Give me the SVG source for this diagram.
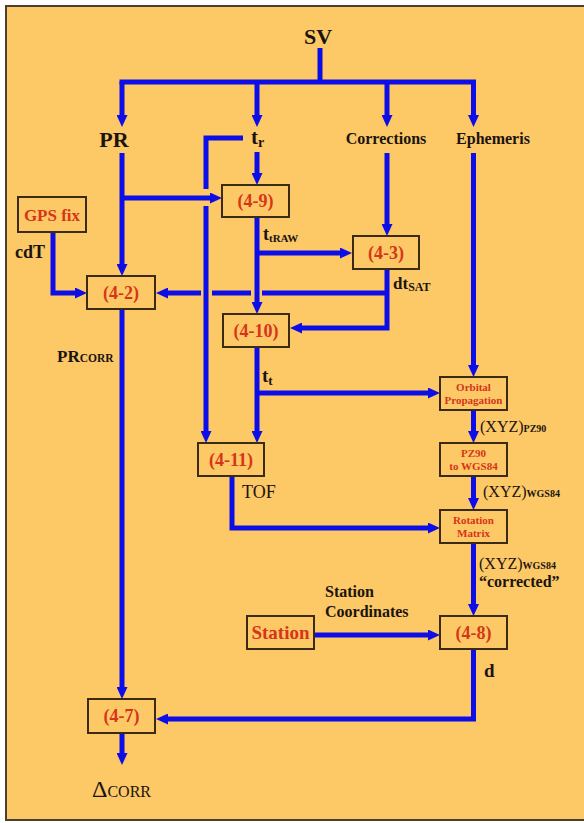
<svg xmlns="http://www.w3.org/2000/svg" width="584" height="823" viewBox="0 0 584 823">
<defs>
<marker id="ah" viewBox="0 0 12 11" refX="1" refY="5.5" markerWidth="12" markerHeight="11" markerUnits="userSpaceOnUse" orient="auto"><path d="M0,0 L12,5.5 L0,11 z" fill="#0d0de8"/></marker>
</defs>
<style>
.c{fill:none;stroke:#0d0de8;stroke-width:5;stroke-linejoin:miter}
.a{marker-end:url(#ah)}
.box{fill:#fdc866;stroke:#3b2b14;stroke-width:2}
.bt{font-family:"Liberation Serif","Times New Roman",serif;font-weight:bold;fill:#d6351a;text-anchor:middle}
.lb{font-family:"Liberation Serif","Times New Roman",serif;font-weight:bold;fill:#1a1410}
.rg{font-weight:normal}
</style>
<rect x="0" y="0" width="584" height="823" fill="#ffffff"/>
<rect x="6" y="6" width="600" height="814" fill="#fdc866" stroke="#4a4030" stroke-width="2"/>

<g id="connectors">
<path class="c" d="M320,48 V82"/>
<path class="c" d="M122,82 H473.5" stroke-linecap="square"/>
<path class="c a" d="M122,82 V116"/>
<path class="c a" d="M257,82 V116"/>
<path class="c a" d="M387,82 V116"/>
<path class="c a" d="M473.5,82 V116"/>
<path class="c a" d="M122,153 V265"/>
<path class="c a" d="M122,198 H211"/>
<path class="c" d="M243,138 H206 V189"/>
<path class="c a" d="M206,206 V432"/>
<path class="c a" d="M257,152 V174"/>
<path class="c a" d="M257,217 V303"/>
<path class="c a" d="M257,253 H341"/>
<path class="c a" d="M387,153 V225"/>
<path class="c a" d="M387,269 V328 H301"/>
<path class="c" d="M387,293 H262"/>
<path class="c" d="M251,293 H212"/>
<path class="c a" d="M201,293 H167"/>
<path class="c a" d="M53,232 V293 H76"/>
<path class="c a" d="M257,347 V432"/>
<path class="c a" d="M257,393 H429"/>
<path class="c a" d="M473.5,153 V366"/>
<path class="c a" d="M473.5,410 V432"/>
<path class="c a" d="M473.5,476 V499"/>
<path class="c a" d="M232,476 V528 H429"/>
<path class="c a" d="M473.5,543 V605"/>
<path class="c a" d="M314,635 H429"/>
<path class="c a" d="M473.5,649 V719 H167"/>
<path class="c a" d="M122,309 V688"/>
<path class="c a" d="M122,733 V754"/>
</g>

<g id="labels">
<text class="lb" x="318" y="44" font-size="22" text-anchor="middle">SV</text>
<text class="lb" x="114" y="147" font-size="22" text-anchor="middle">PR</text>
<text class="lb" x="251" y="144" font-size="21">t<tspan font-size="14" dy="3">r</tspan></text>
<text class="lb" x="386" y="144" font-size="16" text-anchor="middle">Corrections</text>
<text class="lb" x="493" y="144" font-size="16" text-anchor="middle">Ephemeris</text>
<text class="lb" x="15" y="258" font-size="18">cdT</text>
<text class="lb" x="263" y="240" font-size="18">t<tspan font-size="11" dy="2">tRAW</tspan></text>
<text class="lb" x="393" y="289" font-size="17">dt<tspan font-size="12" dy="2">SAT</tspan></text>
<text class="lb" x="57" y="362" font-size="17">PR<tspan font-size="11.5">CORR</tspan></text>
<text class="lb" x="262" y="382" font-size="19">t<tspan font-size="13" dy="3">t</tspan></text>
<text class="lb" x="480" y="432" font-size="16"><tspan class="rg">(XYZ)</tspan><tspan font-size="10">PZ90</tspan></text>
<text class="lb" x="483" y="497" font-size="16"><tspan class="rg">(XYZ)</tspan><tspan font-size="10">WGS84</tspan></text>
<text class="lb" x="479" y="569" font-size="16"><tspan class="rg">(XYZ)</tspan><tspan font-size="10">WGS84</tspan></text>
<text class="lb" x="479" y="587" font-size="16">“corrected”</text>
<text class="lb rg" x="242" y="498" font-size="18">TOF</text>
<text class="lb" x="325" y="597" font-size="16">Station</text>
<text class="lb" x="325" y="617" font-size="16">Coordinates</text>
<text class="lb" x="484" y="677" font-size="19">d</text>
<text class="lb rg" x="92" y="797" font-size="24">Δ<tspan font-size="16">CORR</tspan></text>
</g>

<g id="n49"><rect class="box" x="222" y="185" width="67" height="32"/><text class="bt" x="255.5" y="207" font-size="18">(4-9)</text></g>
<g id="gpsfix"><rect class="box" x="18" y="197" width="68" height="35"/><text class="bt" x="52" y="221" font-size="17">GPS fix</text></g>
<g id="n42"><rect class="box" x="87" y="276" width="68" height="33"/><text class="bt" x="121" y="299" font-size="18">(4-2)</text></g>
<g id="n43"><rect class="box" x="353" y="236" width="66" height="33"/><text class="bt" x="386" y="259" font-size="18">(4-3)</text></g>
<g id="n410"><rect class="box" x="223" y="314" width="66" height="33"/><text class="bt" x="256" y="337" font-size="18">(4-10)</text></g>
<g id="orbital"><rect class="box" x="440" y="377" width="67" height="33"/><text class="bt" x="473.5" y="391" font-size="11">Orbital</text><text class="bt" x="473.5" y="404" font-size="11">Propagation</text></g>
<g id="n411"><rect class="box" x="198" y="443" width="66" height="33"/><text class="bt" x="231" y="466" font-size="18">(4-11)</text></g>
<g id="pz90"><rect class="box" x="440" y="443" width="67" height="33"/><text class="bt" x="473.5" y="457" font-size="11">PZ90</text><text class="bt" x="473.5" y="470" font-size="11">to WGS84</text></g>
<g id="rotation"><rect class="box" x="440" y="510" width="67" height="33"/><text class="bt" x="473.5" y="524" font-size="11">Rotation</text><text class="bt" x="473.5" y="537" font-size="11">Matrix</text></g>
<g id="station"><rect class="box" x="247" y="616" width="67" height="33"/><text class="bt" x="280.5" y="639" font-size="19">Station</text></g>
<g id="n48"><rect class="box" x="440" y="616" width="67" height="33"/><text class="bt" x="473.5" y="639" font-size="18">(4-8)</text></g>
<g id="n47"><rect class="box" x="88" y="699" width="67" height="34"/><text class="bt" x="121.5" y="722" font-size="18">(4-7)</text></g>
</svg>
